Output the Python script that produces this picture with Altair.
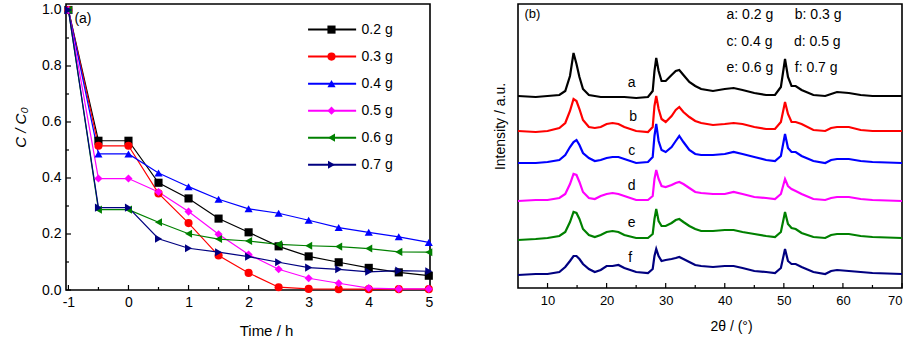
import altair as alt
import pandas as pd

FONT = "Liberation Sans"

# ---------------- (a) C/C0 versus time ----------------
time_h = [-1, -0.5, 0, 0.5, 1, 1.5, 2, 2.5, 3, 3.5, 4, 4.5, 5]
doses = ["0.2 g", "0.3 g", "0.4 g", "0.5 g", "0.6 g", "0.7 g"]
c_0_2 = [1.0, 0.533, 0.533, 0.383, 0.327, 0.255, 0.206, 0.156, 0.120, 0.099, 0.079, 0.063, 0.051]
c_0_3 = [1.0, 0.515, 0.515, 0.345, 0.239, 0.123, 0.061, 0.010, 0.004, 0.003, 0.003, 0.003, 0.003]
c_0_4 = [1.0, 0.486, 0.486, 0.418, 0.369, 0.324, 0.290, 0.274, 0.249, 0.223, 0.206, 0.190, 0.170]
c_0_5 = [1.0, 0.398, 0.398, 0.350, 0.280, 0.199, 0.127, 0.074, 0.042, 0.024, 0.007, 0.004, 0.004]
c_0_6 = [1.0, 0.287, 0.287, 0.242, 0.201, 0.182, 0.175, 0.163, 0.158, 0.155, 0.148, 0.136, 0.135]
c_0_7 = [1.0, 0.294, 0.294, 0.183, 0.149, 0.135, 0.119, 0.099, 0.080, 0.074, 0.065, 0.069, 0.067]
series_colors = ["#000000", "#ff0000", "#0000ff", "#ff00ff", "#008000", "#000080"]
series_shapes = ["square", "circle", "triangle-up", "diamond", "triangle-left", "triangle-right"]
x_major_a = [-1, 0, 1, 2, 3, 4, 5]
x_minor_a = [-0.5, 0.5, 1.5, 2.5, 3.5, 4.5]
y_major_a = [0.0, 0.2, 0.4, 0.6, 0.8, 1.0]
y_minor_a = [0.1, 0.3, 0.5, 0.7, 0.9]

# ---------------- (b) XRD patterns ----------------
two_theta = [5, 8, 10, 12, 13, 13.8, 14.4, 14.9, 15.4, 16,
             17, 18, 19, 20, 21, 22, 23, 25, 27, 27.8,
             28.1, 28.4, 28.8, 29.3, 30, 31, 31.7, 32.3, 33, 34,
             35, 36, 38, 40, 41.5, 43, 45, 47, 48.5, 49.5,
             50.2, 50.7, 51.3, 52, 53, 55, 57, 58, 59, 61,
             63, 65, 70]
xrd_a = [192, 191, 192, 193, 197, 212, 235, 224, 211, 199,
         193, 192, 191, 191, 191, 191, 191, 190, 191, 197,
         217, 230, 217, 207, 207, 213, 217, 218, 213, 206,
         202, 199, 197, 199, 200, 198, 195, 193, 193, 201,
         229, 211, 202, 202, 198, 193, 192, 194, 196, 195,
         193, 192, 192]
xrd_b = [157, 156, 157, 160, 165, 177, 189, 187, 179, 168,
         161, 160, 161, 164, 165, 164, 161, 157, 156, 161,
         182, 192, 179, 169, 166, 172, 178, 181, 176, 171,
         167, 165, 163, 164, 165, 164, 161, 159, 159, 166,
         186, 174, 166, 166, 164, 158, 157, 160, 161, 161,
         158, 157, 157]
xrd_c = [125, 125, 126, 128, 133, 141, 146, 148, 143, 135,
         130, 127, 128, 130, 131, 131, 129, 125, 126, 131,
         152, 164, 147, 138, 136, 141, 147, 152, 146, 138,
         134, 133, 133, 134, 136, 134, 131, 128, 127, 132,
         154, 140, 136, 136, 132, 127, 125, 128, 129, 129,
         127, 126, 125]
xrd_d = [87, 88, 88, 90, 94, 104, 114, 113, 106, 96,
         90, 89, 92, 94, 95, 94, 92, 88, 88, 92,
         109, 118, 109, 102, 101, 103, 105, 106, 104, 100,
         96, 95, 94, 94, 96, 94, 91, 90, 89, 94,
         109, 102, 99, 97, 94, 89, 88, 90, 91, 91,
         89, 88, 87]
xrd_e = [48, 49, 50, 52, 56, 66, 76, 75, 69, 59,
         53, 51, 53, 56, 57, 56, 53, 50, 50, 54,
         69, 79, 67, 62, 62, 65, 68, 69, 66, 62,
         59, 57, 57, 58, 58, 56, 54, 52, 51, 56,
         76, 64, 60, 59, 55, 51, 50, 53, 54, 54,
         52, 51, 50]
xrd_f = [13, 14, 14, 16, 21, 27, 32, 32, 29, 24,
         19, 16, 18, 22, 22, 23, 20, 16, 15, 19,
         32, 39, 32, 27, 28, 29, 30, 31, 29, 26,
         23, 22, 21, 22, 22, 20, 17, 16, 15, 20,
         39, 27, 24, 24, 21, 16, 14, 17, 18, 17,
         16, 15, 14]
curve_ids = ["a", "b", "c", "d", "e", "f"]
curve_label_theta = [24.25, 24.5, 24.25, 24.25, 24.25, 24.0]
curve_label_level = [205, 171, 137, 102, 65, 30]
key_texts = ["a: 0.2 g", "b: 0.3 g", "c: 0.4 g", "d: 0.5 g", "e: 0.6 g", "f: 0.7 g"]
key_theta = [40.3, 51.85, 40.3, 51.7, 40.3, 51.85]
key_level = [273, 273, 246, 246, 220, 220]
x_major_b = [10, 20, 30, 40, 50, 60, 70]
x_minor_b = [15, 25, 35, 45, 55, 65]

# ================= panel (a) =================
WA, HA = 364, 286
xa_scale = alt.Scale(domain=[-1.04, 5.02], nice=False, zero=False)
ya_scale = alt.Scale(domain=[0, 1.0214], nice=False, zero=False)
xa_axis = alt.Axis(values=x_major_a, ticks=False, domain=False, grid=False,
                   labelFontSize=14, labelPadding=5, labelExpr="'' + datum.value",
                   title="Time / h", titleFontSize=15, titleFontWeight="normal",
                   titleX=200, titleY=40, titleBaseline="middle")
ya_axis = alt.Axis(values=y_major_a, format=".1f", ticks=False, domain=False, grid=False,
                   labelFontSize=14, labelPadding=5,
                   title="C / C₀", titleFontSize=15, titleFontWeight="normal",
                   titleFontStyle="italic", titleX=-46, titleY=123, titleBaseline="middle")


def XA(field):
    return alt.X(field, type="quantitative", scale=xa_scale, axis=xa_axis)


def YA(field):
    return alt.Y(field, type="quantitative", scale=ya_scale, axis=ya_axis)


rows = []
for dose, vals in zip(doses, [c_0_2, c_0_3, c_0_4, c_0_5, c_0_6, c_0_7]):
    for t, c in zip(time_h, vals):
        rows.append({"dose": dose, "t": t, "c": c})
df_a = pd.DataFrame(rows)

color_a = alt.Color("dose:N", scale=alt.Scale(domain=doses, range=series_colors), legend=None)
shape_a = alt.Shape("dose:N", scale=alt.Scale(domain=doses, range=series_shapes), legend=None)

base_a = alt.Chart(df_a)
lines_a = base_a.mark_line(strokeWidth=1.2).encode(x=XA("t"), y=YA("c"), color=color_a, detail="dose:N")
points_a = base_a.mark_point(filled=True, size=66, opacity=1).encode(x=XA("t"), y=YA("c"), color=color_a, shape=shape_a)

# in-plot key
key_df = pd.DataFrame({
    "dose": doses,
    "y": [0.93 - 0.0965 * i for i in range(len(doses))],
    "x0": [2.99] * len(doses),
    "x1": [3.79] * len(doses),
    "xm": [3.38] * len(doses),
    "xt": [3.88] * len(doses),
})
key_base = alt.Chart(key_df)
key_lines = key_base.mark_rule(strokeWidth=2).encode(x=XA("x0"), x2="x1:Q", y=YA("y"), color=color_a)
key_pts = key_base.mark_point(filled=True, size=66, opacity=1).encode(x=XA("xm"), y=YA("y"), color=color_a, shape=shape_a)
key_txt = key_base.mark_text(align="left", baseline="middle", fontSize=14, font=FONT, color="black").encode(
    x=XA("xt"), y=YA("y"), text="dose:N")

panel_a_label = alt.Chart(pd.DataFrame({"t": [-0.90], "c": [0.968], "s": ["(a)"]})).mark_text(
    align="left", baseline="middle", fontSize=14, font=FONT, color="black").encode(x=XA("t"), y=YA("c"), text="s:N")

# inward ticks
xt_major = alt.Chart(pd.DataFrame({"v": x_major_a})).mark_rule(color="black", strokeWidth=1.2).encode(
    x=XA("v"), y=alt.value(HA), y2=alt.value(HA - 5))
xt_minor = alt.Chart(pd.DataFrame({"v": x_minor_a})).mark_rule(color="black", strokeWidth=1.2).encode(
    x=XA("v"), y=alt.value(HA), y2=alt.value(HA - 3))
yt_major = alt.Chart(pd.DataFrame({"v": y_major_a})).mark_rule(color="black", strokeWidth=1.2).encode(
    y=YA("v"), x=alt.value(0), x2=alt.value(5))
yt_minor = alt.Chart(pd.DataFrame({"v": y_minor_a})).mark_rule(color="black", strokeWidth=1.2).encode(
    y=YA("v"), x=alt.value(0), x2=alt.value(3))

panel_a = alt.layer(xt_major, xt_minor, yt_major, yt_minor, lines_a, points_a,
                    key_lines, key_pts, key_txt, panel_a_label).properties(width=WA, height=HA)

# ================= panel (b) =================
WB, HB = 384, 284
xb_scale = alt.Scale(domain=[5, 70], nice=False, zero=False)
yb_scale = alt.Scale(domain=[0, 284], nice=False, zero=False)
xb_axis = alt.Axis(values=x_major_b, ticks=False, domain=False, grid=False,
                   labelFontSize=13, labelPadding=6,
                   title="2θ / (°)", titleFontSize=14, titleFontWeight="normal",
                   titleX=213, titleY=38, titleBaseline="middle")
yb_axis = alt.Axis(labels=False, ticks=False, domain=False, grid=False,
                   title="Intensity / a.u.", titleFontSize=14, titleFontWeight="normal",
                   titleX=-18, titleY=122, titleBaseline="middle")


def XB(field):
    return alt.X(field, type="quantitative", scale=xb_scale, axis=xb_axis)


def YB(field):
    return alt.Y(field, type="quantitative", scale=yb_scale, axis=yb_axis)


rows_b = []
for cid, vals in zip(curve_ids, [xrd_a, xrd_b, xrd_c, xrd_d, xrd_e, xrd_f]):
    for th, v in zip(two_theta, vals):
        rows_b.append({"curve": cid, "theta": th, "v": v})
df_b = pd.DataFrame(rows_b)
color_b = alt.Color("curve:N", scale=alt.Scale(domain=curve_ids, range=series_colors), legend=None)

lines_b = alt.Chart(df_b).mark_line(strokeWidth=2.2).encode(x=XB("theta"), y=YB("v"), color=color_b, detail="curve:N")

lab_df = pd.DataFrame({"theta": curve_label_theta, "v": curve_label_level, "s": curve_ids})
labels_b = alt.Chart(lab_df).mark_text(align="center", baseline="middle", fontSize=14, font=FONT, color="black").encode(
    x=XB("theta"), y=YB("v"), text="s:N")

keyb_df = pd.DataFrame({"theta": key_theta, "v": key_level, "s": key_texts})
keys_b = alt.Chart(keyb_df).mark_text(align="left", baseline="middle", fontSize=14, font=FONT, color="black").encode(
    x=XB("theta"), y=YB("v"), text="s:N")

panel_b_label = alt.Chart(pd.DataFrame({"theta": [6.1], "v": [274], "s": ["(b)"]})).mark_text(
    align="left", baseline="middle", fontSize=13, font=FONT, color="black").encode(x=XB("theta"), y=YB("v"), text="s:N")

xbt_major = alt.Chart(pd.DataFrame({"v": x_major_b})).mark_rule(color="black", strokeWidth=1.2).encode(
    x=XB("v"), y=alt.value(HB), y2=alt.value(HB - 5))
xbt_minor = alt.Chart(pd.DataFrame({"v": x_minor_b})).mark_rule(color="black", strokeWidth=1.2).encode(
    x=XB("v"), y=alt.value(HB), y2=alt.value(HB - 3))

panel_b = alt.layer(xbt_major, xbt_minor, lines_b, labels_b, keys_b, panel_b_label).properties(width=WB, height=HB)

chart = alt.hconcat(panel_a, panel_b, spacing=58).properties(
    padding={"left": 12, "top": 2, "right": 5, "bottom": 5},
    background="white",
).configure_view(stroke="black", strokeWidth=1.6).configure_axis(
    labelColor="black", titleColor="black", labelFont=FONT, titleFont=FONT
).configure_text(font=FONT)

chart.save("out.html", embed_options={"renderer": "svg", "actions": False})
